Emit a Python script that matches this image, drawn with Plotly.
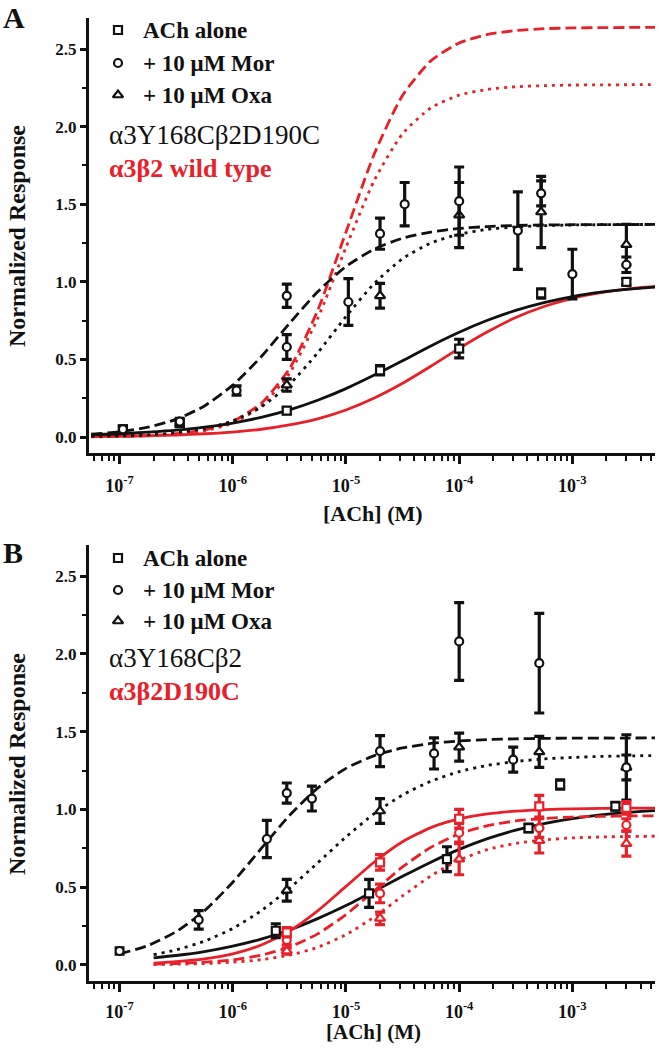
import plotly.graph_objects as go

# ---------------- data ----------------
# fitted-curve samples (concentration in M)
CURVE_X_A = [5.62e-8, 1.0e-7, 1.78e-7, 3.16e-7, 5.62e-7, 1.0e-6, 1.78e-6, 3.16e-6, 5.62e-6,
             1.0e-5, 1.78e-5, 3.16e-5, 5.62e-5, 1.0e-4, 1.78e-4, 3.16e-4, 5.62e-4,
             1.0e-3, 1.78e-3, 3.16e-3, 5.62e-3]
A_FIT_ACH = [0.015, 0.021, 0.031, 0.044, 0.064, 0.090, 0.127, 0.175, 0.237, 0.312, 0.399,
             0.492, 0.587, 0.675, 0.752, 0.816, 0.866, 0.905, 0.933, 0.953, 0.967]
A_FIT_MOR = [0.018, 0.034, 0.063, 0.114, 0.200, 0.334, 0.517, 0.731, 0.936, 1.099, 1.211,
             1.281, 1.321, 1.344, 1.356, 1.363, 1.366, 1.368, 1.369, 1.369, 1.370]
A_FIT_OXA = [0.004, 0.007, 0.014, 0.028, 0.054, 0.104, 0.194, 0.338, 0.542, 0.776, 0.990,
             1.149, 1.250, 1.307, 1.338, 1.354, 1.362, 1.366, 1.368, 1.369, 1.370]
A_WT_ACH = [0.003, 0.005, 0.008, 0.013, 0.021, 0.032, 0.050, 0.078, 0.117, 0.174, 0.251,
            0.346, 0.456, 0.571, 0.678, 0.770, 0.841, 0.894, 0.930, 0.955, 0.971]
A_WT_MOR = [0.002, 0.004, 0.009, 0.021, 0.046, 0.101, 0.216, 0.439, 0.815, 1.320, 1.825,
            2.201, 2.424, 2.539, 2.594, 2.619, 2.631, 2.636, 2.638, 2.639, 2.640]
A_WT_OXA = [0.001, 0.003, 0.008, 0.018, 0.040, 0.090, 0.198, 0.409, 0.763, 1.222, 1.654,
            1.954, 2.121, 2.203, 2.240, 2.257, 2.264, 2.268, 2.269, 2.270, 2.270]

CURVE_X_B_MOR = [1.0e-7, 1.78e-7, 3.16e-7, 5.62e-7, 1.0e-6, 1.78e-6, 3.16e-6, 5.62e-6,
                 1.0e-5, 1.78e-5, 3.16e-5, 5.62e-5, 1.0e-4, 1.78e-4, 3.16e-4, 5.62e-4,
                 1.0e-3, 1.78e-3, 3.16e-3, 5.62e-3]
B_FIT_MOR = [0.071, 0.125, 0.214, 0.348, 0.532, 0.748, 0.960, 1.137, 1.264, 1.346, 1.395,
             1.424, 1.440, 1.449, 1.454, 1.457, 1.458, 1.459, 1.459, 1.460]
CURVE_X_B = [2.0e-7, 3.16e-7, 5.62e-7, 1.0e-6, 1.78e-6, 3.16e-6, 5.62e-6,
             1.0e-5, 1.78e-5, 3.16e-5, 5.62e-5, 1.0e-4, 1.78e-4, 3.16e-4, 5.62e-4,
             1.0e-3, 1.78e-3, 3.16e-3, 5.62e-3]
B_FIT_OXA = [0.066, 0.097, 0.153, 0.235, 0.348, 0.492, 0.656, 0.823, 0.973, 1.093, 1.181,
             1.243, 1.283, 1.308, 1.325, 1.334, 1.341, 1.344, 1.347]
B_FIT_ACH = [0.046, 0.061, 0.086, 0.121, 0.166, 0.225, 0.298, 0.382, 0.475, 0.570, 0.661,
             0.743, 0.812, 0.867, 0.909, 0.941, 0.965, 0.981, 0.993]
B_D190C_ACH = [0.012, 0.021, 0.039, 0.071, 0.128, 0.218, 0.348, 0.505, 0.662, 0.792, 0.883,
               0.939, 0.971, 0.989, 0.999, 1.004, 1.007, 1.008, 1.009]
B_D190C_MOR = [0.005, 0.009, 0.018, 0.033, 0.063, 0.115, 0.200, 0.324, 0.477, 0.630, 0.756,
               0.843, 0.896, 0.926, 0.942, 0.951, 0.955, 0.958, 0.959]
B_D190C_OXA = [0.003, 0.005, 0.009, 0.018, 0.034, 0.063, 0.113, 0.195, 0.309, 0.444, 0.573,
               0.674, 0.742, 0.782, 0.804, 0.817, 0.823, 0.826, 0.828]

# measured points: panel A (alpha3Y168C beta2D190C)
A_ACH_X = [1.07e-7, 3.4e-7, 3.0e-6, 2.0e-5, 1.0e-4, 5.3e-4, 3.0e-3]
A_ACH_Y = [0.05, 0.09, 0.17, 0.43, 0.57, 0.925, 1.00]
A_ACH_E = [0.02, 0.02, 0.02, 0.03, 0.06, 0.03, 0.02]
A_MOR_X = [1.07e-7, 3.4e-7, 1.08e-6, 3.0e-6, 3.0e-6, 1.05e-5, 2.0e-5, 3.3e-5, 1.0e-4,
           3.3e-4, 5.3e-4, 1.0e-3, 3.0e-3]
A_MOR_Y = [0.05, 0.10, 0.30, 0.91, 0.58, 0.87, 1.31, 1.50, 1.52, 1.33, 1.57, 1.05, 1.11]
A_MOR_E = [0.02, 0.02, 0.03, 0.075, 0.08, 0.15, 0.10, 0.14, 0.22, 0.25, 0.08, 0.16, 0.05]
A_OXA_X = [3.0e-6, 2.0e-5, 1.0e-4, 5.3e-4, 3.0e-3]
A_OXA_Y = [0.335, 0.91, 1.43, 1.45, 1.24]
A_OXA_E = [0.04, 0.08, 0.21, 0.23, 0.13]

# panel B (alpha3Y168C beta2, black)
B_ACH_X = [2.4e-6, 1.6e-5, 7.8e-5, 4.1e-4, 7.8e-4, 2.4e-3]
B_ACH_Y = [0.22, 0.46, 0.68, 0.88, 1.16, 1.02]
B_ACH_E = [0.045, 0.09, 0.08, 0.025, 0.03, 0.025]
B_MOR_X = [1.0e-7, 5.0e-7, 2.0e-6, 3.0e-6, 5.0e-6, 2.0e-5, 6.0e-5, 1.0e-4, 3.0e-4, 5.1e-4, 3.0e-3]
B_MOR_Y = [0.09, 0.29, 0.81, 1.105, 1.07, 1.375, 1.36, 2.08, 1.32, 1.94, 1.27]
B_MOR_E = [0.02, 0.06, 0.12, 0.065, 0.08, 0.10, 0.10, 0.25, 0.08, 0.32, 0.08]
B_OXA_X = [3.0e-6, 2.0e-5, 1.0e-4, 5.1e-4, 3.0e-3]
B_OXA_Y = [0.48, 0.99, 1.40, 1.37, 1.27]
B_OXA_E = [0.07, 0.08, 0.09, 0.10, 0.21]

# panel B (alpha3 beta2D190C, red)
R_X = [3.0e-6, 2.0e-5, 1.0e-4, 5.1e-4, 3.0e-3]
R_ACH_Y = [0.21, 0.66, 0.94, 1.02, 1.01]
R_ACH_E = [0.03, 0.05, 0.06, 0.07, 0.04]
R_MOR_Y = [0.16, 0.46, 0.85, 0.88, 0.90]
R_MOR_E = [0.03, 0.06, 0.06, 0.06, 0.04]
R_OXA_Y = [0.09, 0.30, 0.68, 0.80, 0.78]
R_OXA_E = [0.02, 0.04, 0.10, 0.08, 0.08]

X_TICKS = [1e-7, 1e-6, 1e-5, 1e-4, 1e-3]
X_TICK_TEXT = ["10<sup>-7</sup>", "10<sup>-6</sup>", "10<sup>-5</sup>", "10<sup>-4</sup>", "10<sup>-3</sup>"]
LEGEND_LABELS = ["ACh alone", "+ 10 \u03bcM Mor", "+ 10 \u03bcM Oxa"]

# ---------------- style ----------------
W, H = 659, 1050
BLACK = "#111111"
RED = "#e8202a"
FONT = "Liberation Serif"
DASH = "11px,5px"
DOT = "3px,5px"


def px(x):
    return x / W


def py(y):
    return 1 - y / H


fig = go.Figure()


def add_curve(xa, ya, xs, ys, color, dash):
    fig.add_trace(go.Scatter(x=xs, y=ys, xaxis=xa, yaxis=ya, mode="lines",
                             line=dict(color=color, width=2.8, dash=dash, shape="spline", smoothing=0.6),
                             showlegend=False, hoverinfo="skip"))


def add_points(xa, ya, xs, ys, es, color, symbol, size):
    fig.add_trace(go.Scatter(x=xs, y=ys, xaxis=xa, yaxis=ya, mode="markers",
                             marker=dict(symbol=symbol, size=size, color="white",
                                         line=dict(color=color, width=2.2)),
                             error_y=dict(type="data", array=es, visible=True, color=color,
                                          thickness=3.2, width=5),
                             showlegend=False, hoverinfo="skip"))


# panel A curves
add_curve("x", "y", CURVE_X_A, A_WT_ACH, RED, "solid")
add_curve("x", "y", CURVE_X_A, A_WT_MOR, RED, DASH)
add_curve("x", "y", CURVE_X_A, A_WT_OXA, RED, DOT)
add_curve("x", "y", CURVE_X_A, A_FIT_ACH, BLACK, "solid")
add_curve("x", "y", CURVE_X_A, A_FIT_MOR, BLACK, DASH)
add_curve("x", "y", CURVE_X_A, A_FIT_OXA, BLACK, DOT)
add_points("x", "y", A_ACH_X, A_ACH_Y, A_ACH_E, BLACK, "square", 8)
add_points("x", "y", A_OXA_X, A_OXA_Y, A_OXA_E, BLACK, "triangle-up", 9)
add_points("x", "y", A_MOR_X, A_MOR_Y, A_MOR_E, BLACK, "circle", 8)

# panel B curves
add_curve("x2", "y2", CURVE_X_B_MOR, B_FIT_MOR, BLACK, DASH)
add_curve("x2", "y2", CURVE_X_B, B_FIT_OXA, BLACK, DOT)
add_curve("x2", "y2", CURVE_X_B, B_FIT_ACH, BLACK, "solid")
add_curve("x2", "y2", CURVE_X_B, B_D190C_OXA, RED, DOT)
add_curve("x2", "y2", CURVE_X_B, B_D190C_MOR, RED, DASH)
add_curve("x2", "y2", CURVE_X_B, B_D190C_ACH, RED, "solid")
add_points("x2", "y2", B_ACH_X, B_ACH_Y, B_ACH_E, BLACK, "square", 8)
add_points("x2", "y2", B_OXA_X, B_OXA_Y, B_OXA_E, BLACK, "triangle-up", 9)
add_points("x2", "y2", B_MOR_X, B_MOR_Y, B_MOR_E, BLACK, "circle", 8)
add_points("x2", "y2", R_X, R_OXA_Y, R_OXA_E, RED, "triangle-up", 9)
add_points("x2", "y2", R_X, R_MOR_Y, R_MOR_E, RED, "circle", 8)
add_points("x2", "y2", R_X, R_ACH_Y, R_ACH_E, RED, "square", 8)

# legend symbols on a full-page overlay axis (pixel units)
LEG_SYMBOLS = ["square", "circle", "triangle-up"]
LEG_SIZES = [8, 8, 9]
for rows in ([30, 63, 95], [558, 590, 621]):
    for sym, sz, yy in zip(LEG_SYMBOLS, LEG_SIZES, rows):
        fig.add_trace(go.Scatter(x=[118], y=[yy], xaxis="x3", yaxis="y3", mode="markers",
                                 marker=dict(symbol=sym, size=sz, color="white",
                                             line=dict(color=BLACK, width=2.2)),
                                 showlegend=False, hoverinfo="skip"))

annotations = []


def text(x, y, s, size, color=BLACK, bold=True, xanchor="left", angle=0):
    annotations.append(dict(x=px(x), y=py(y), xref="paper", yref="paper",
                            text=("<b>%s</b>" % s) if bold else s, showarrow=False,
                            xanchor=xanchor, yanchor="middle", textangle=angle,
                            font=dict(family=FONT, size=size, color=color)))


PANELS = [
    dict(letter="A", ly=18, rows=[30, 63, 95], g1=("\u03b13Y168C\u03b22D190C", 135),
         g2=("\u03b13\u03b22 wild type", 168)),
    dict(letter="B", ly=552, rows=[558, 590, 621], g1=("\u03b13Y168C\u03b22", 658),
         g2=("\u03b13\u03b22D190C", 692)),
]
for p in PANELS:
    text(1, p["ly"], p["letter"], 30)
    for lab, yy in zip(LEGEND_LABELS, p["rows"]):
        text(141, yy, lab, 23)
    text(107, p["g1"][1], p["g1"][0], 27, bold=False)
    text(107, p["g2"][1], p["g2"][0], 26, color=RED)

text(17, 236, "Normalized Response", 24, xanchor="center", angle=-90)
text(17, 764, "Normalized Response", 24, xanchor="center", angle=-90)
text(373, 513, "[ACh] (M)", 22, xanchor="center")
text(373, 1032, "[ACh] (M)", 21, xanchor="center")


def xaxis(anchor, standoff):
    return dict(type="log", range=[-7.27, -2.27], domain=[px(89), px(655)], anchor=anchor,
                showline=True, linewidth=3.2, linecolor=BLACK, mirror=False,
                ticks="outside", ticklen=8, tickwidth=3, tickcolor=BLACK,
                tickmode="array", tickvals=X_TICKS, ticktext=X_TICK_TEXT,
                ticklabelstandoff=standoff,
                tickfont=dict(family=FONT, size=18, color=BLACK, weight="bold"),
                showgrid=False, zeroline=False,
                minor=dict(dtick="D1", ticks="outside", ticklen=5,
                           tickwidth=2.2, tickcolor=BLACK, showgrid=False))


def yaxis(domain, anchor):
    return dict(range=[-0.103, 2.70], domain=domain, anchor=anchor,
                showline=True, linewidth=3.2, linecolor=BLACK, mirror=False,
                ticks="outside", ticklen=6, tickwidth=3, tickcolor=BLACK,
                tickmode="linear", tick0=0, dtick=0.5, tickformat=".1f",
                tickfont=dict(family=FONT, size=17, color=BLACK, weight="bold"),
                showgrid=False, zeroline=False,
                minor=dict(tick0=0, dtick=0.25, ticks="outside", ticklen=4,
                           tickwidth=2.2, tickcolor=BLACK, showgrid=False))


fig.update_layout(
    width=W, height=H, margin=dict(l=0, r=0, t=0, b=0),
    paper_bgcolor="white", plot_bgcolor="rgba(0,0,0,0)", showlegend=False,
    xaxis=xaxis("y", 6), yaxis=yaxis([py(453), py(18)], "x"),
    xaxis2=xaxis("y2", 4), yaxis2=yaxis([py(981), py(545)], "x2"),
    xaxis3=dict(domain=[0, 1], range=[0, W], visible=False, anchor="y3", fixedrange=True),
    yaxis3=dict(domain=[0, 1], range=[H, 0], visible=False, anchor="x3", fixedrange=True),
    annotations=annotations,
)

fig.write_html("out.html", post_script="document.body.style.margin='0px';",
               config={"displayModeBar": False})
